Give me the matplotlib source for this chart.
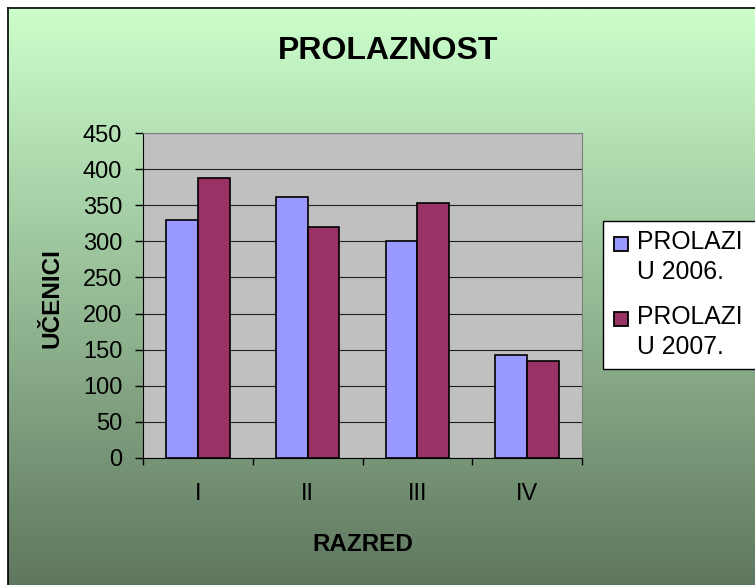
import numpy as np
import matplotlib.pyplot as plt
from matplotlib.patches import Rectangle

# Podaci
razredi = ['I', 'II', 'III', 'IV']
prolazi_2006 = [330, 361, 300, 143]
prolazi_2007 = [388, 320, 353, 135]
serije = ['PROLAZI\nU 2006.', 'PROLAZI\nU 2007.']
boje = ['#9999FF', '#993366']

plt.rcParams['font.family'] = ['Liberation Sans', 'DejaVu Sans']

W, H = 755, 585
fig = plt.figure(figsize=(W / 100, H / 100), dpi=100)

# pozadina sa gradijentom (koordinate u pikselima)
bg = fig.add_axes([0, 0, 1, 1], zorder=0)
bg.set_xlim(0, W)
bg.set_ylim(H, 0)
bg.axis('off')
top = np.array([204, 255, 204]) / 255
bot = np.array([94, 118, 94]) / 255
t = np.linspace(0, 1, 256)[:, None, None]
grad = top * (1 - t) + bot * t
bg.imshow(grad, extent=[8, W + 5, H + 5, 8], aspect='auto')
bg.plot([8, 8], [8, H + 5], color='black', lw=1.2)
bg.plot([8, W + 5], [8, 8], color='black', lw=1.2)

# naslov
bg.text(388, 51, 'PROLAZNOST', fontsize=23, fontweight='bold',
        ha='center', va='center')

# legenda
bg.add_patch(Rectangle((603, 221), 160, 148, facecolor='white',
                       edgecolor='black', lw=1))
for i, (lab, c) in enumerate(zip(serije, boje)):
    y0 = 237 + i * 75
    bg.add_patch(Rectangle((614, y0), 14, 14, facecolor=c,
                           edgecolor='black', lw=1.3))
    bg.text(637, y0 - 7, lab, fontsize=17.8, ha='left', va='top',
            linespacing=1.32)

# glavni grafikon
ax = fig.add_axes([143 / W, 1 - 458 / H, 439 / W, 325 / H], zorder=1)
ax.set_facecolor('#C0C0C0')
x = np.arange(len(razredi))
w = 0.29
ax.bar(x - w / 2, prolazi_2006, w, color=boje[0], edgecolor='black', lw=1.2)
ax.bar(x + w / 2, prolazi_2007, w, color=boje[1], edgecolor='black', lw=1.2)

ax.set_xlim(-0.5, len(razredi) - 0.5)
ax.set_ylim(0, 450)
ax.set_yticks(range(0, 451, 50))
ax.set_xticks(x)
ax.set_xticklabels(razredi)
ax.set_xticks(np.arange(-0.5, len(razredi), 1), minor=True)
ax.tick_params(axis='x', which='major', length=0, pad=18, labelsize=17)
ax.tick_params(axis='x', which='minor', length=5, width=1, direction='out')
ax.tick_params(axis='y', length=6, width=1, pad=9, labelsize=17)
ax.grid(axis='y', color='#202020', lw=0.8)
ax.set_axisbelow(True)
for s in ['left', 'bottom']:
    ax.spines[s].set_color('black')
for s in ['top', 'right']:
    ax.spines[s].set_color('#808080')

ax.set_xlabel('RAZRED', fontsize=17.5, fontweight='bold')
ax.xaxis.set_label_coords(0.501, -0.231)
ax.set_ylabel('UČENICI', fontsize=17.5, fontweight='bold')
ax.yaxis.set_label_coords(-0.18, 0.492)

fig.savefig('out.png', dpi=100)
